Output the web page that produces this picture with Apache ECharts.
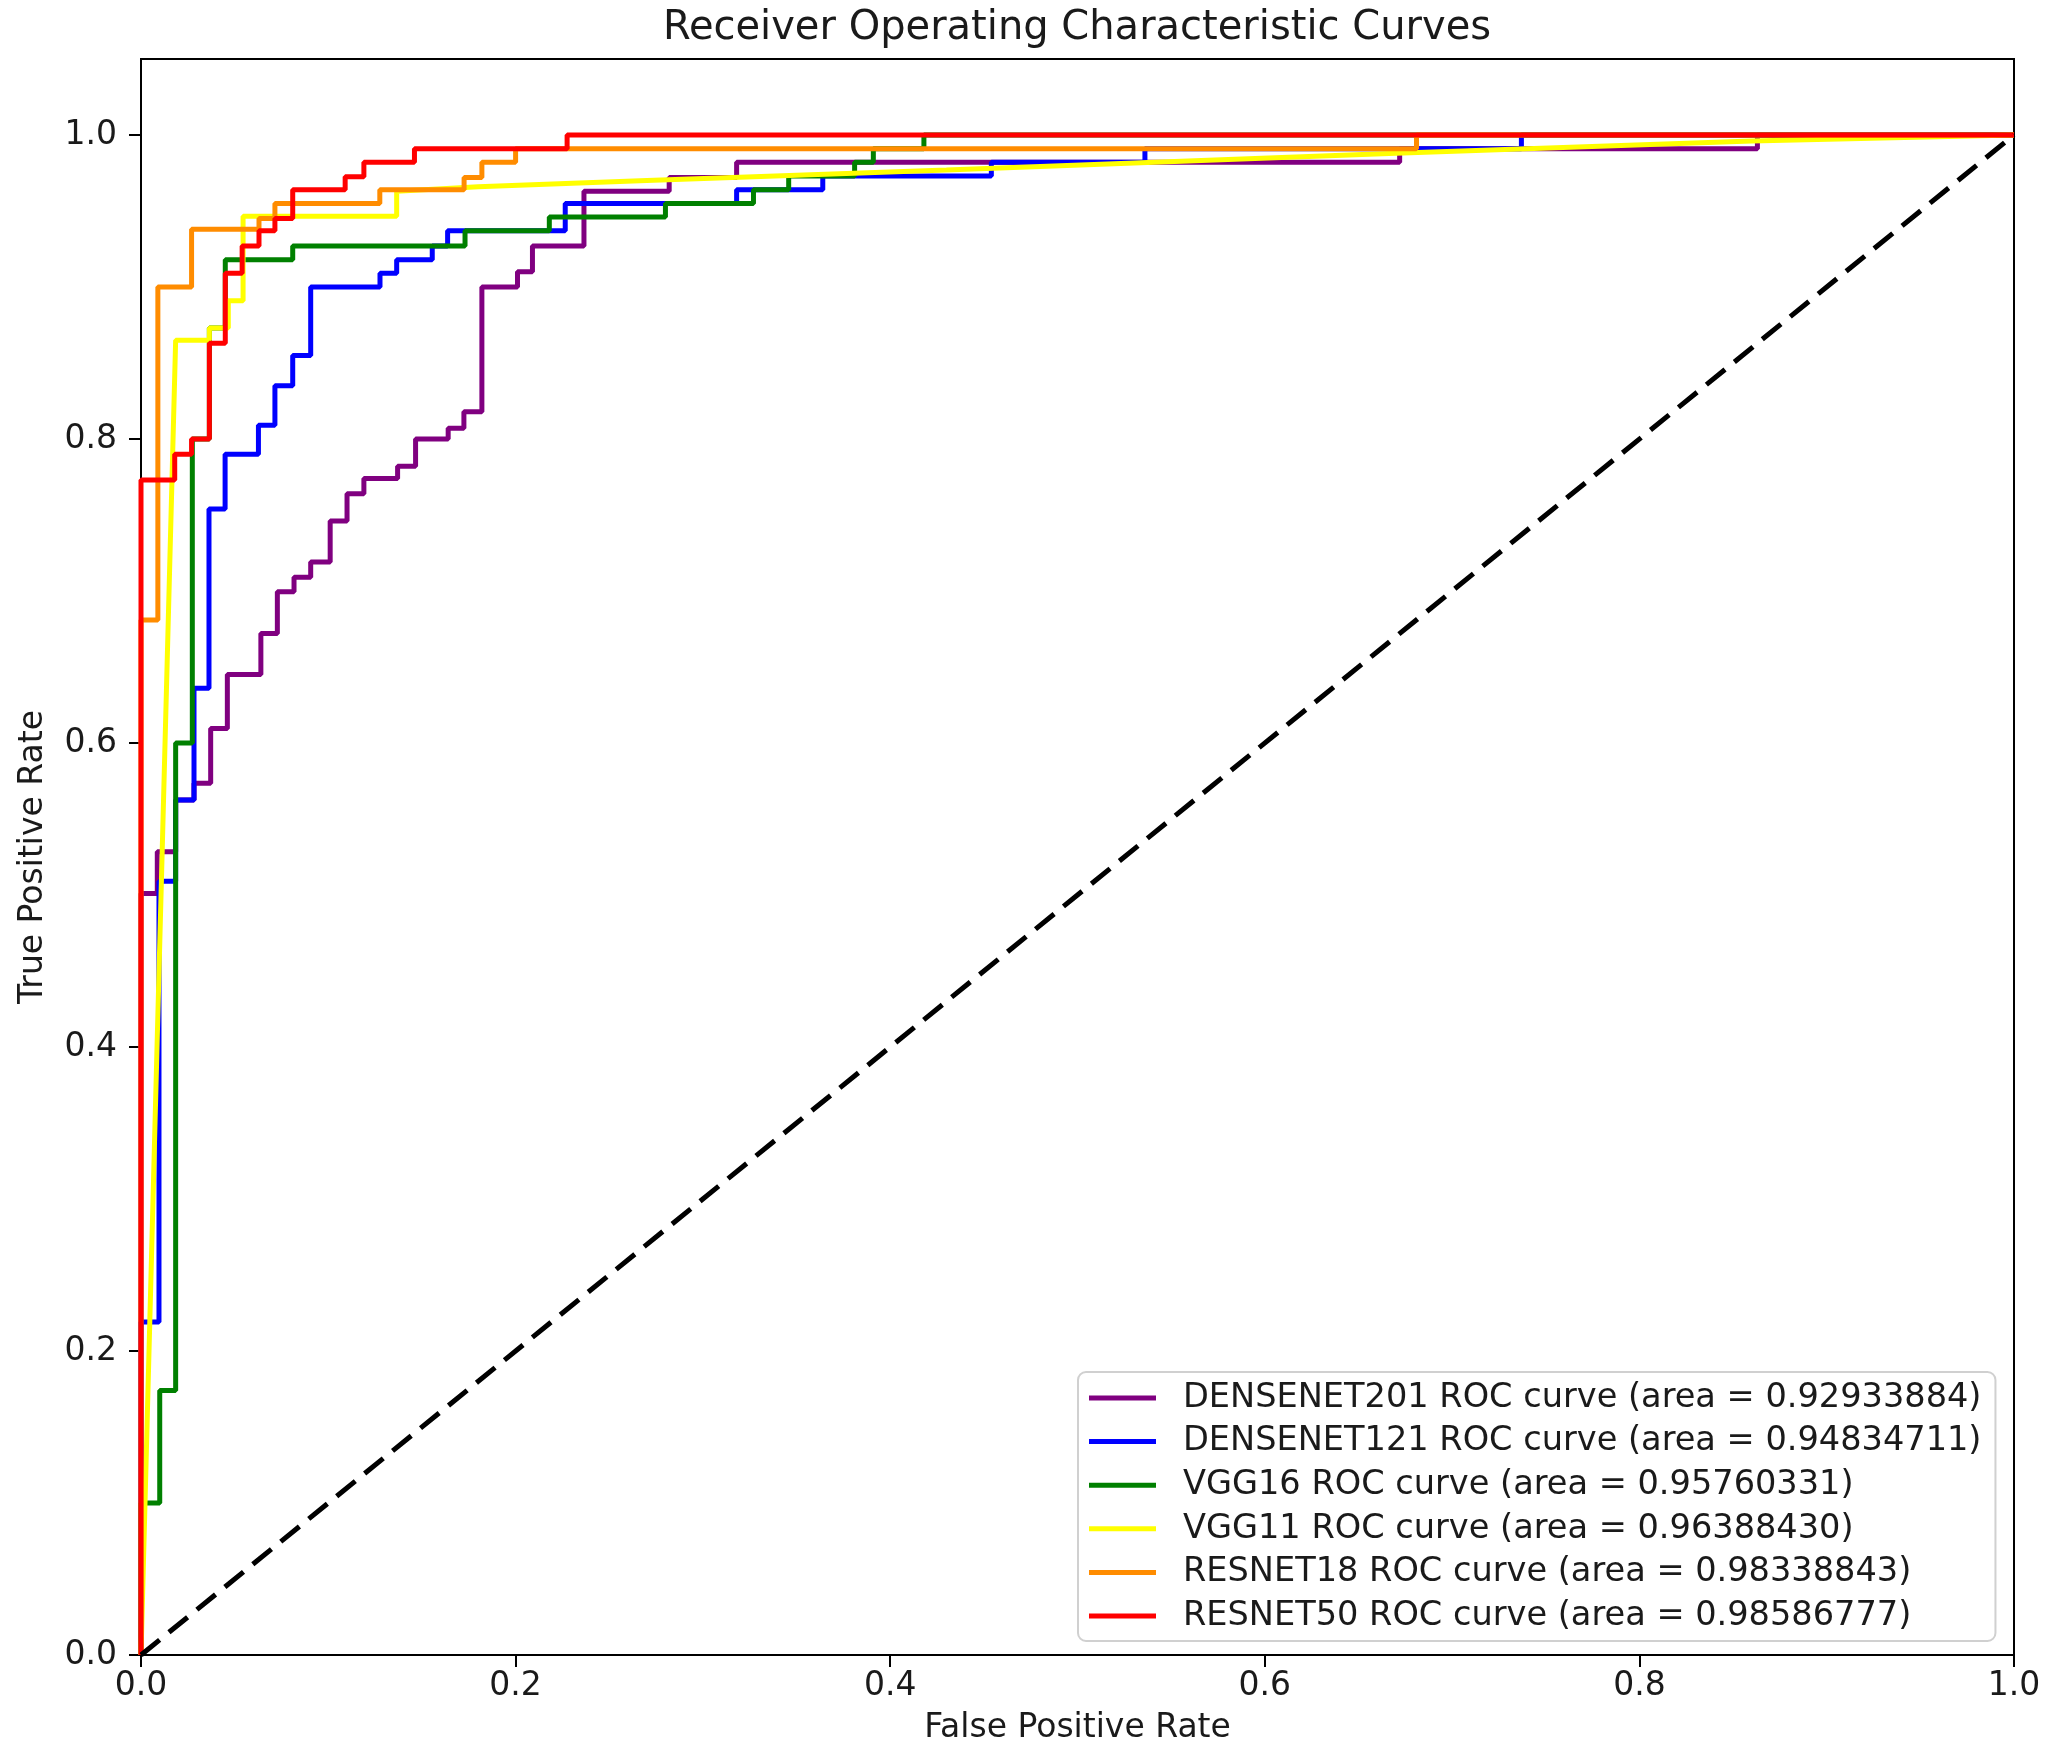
<!DOCTYPE html>
<html>
<head>
<meta charset="utf-8">
<script src="https://cdn.jsdelivr.net/npm/echarts@6.0.0/dist/echarts.min.js"></script>
<style>
  html, body { margin: 0; padding: 0; background: #fff; }
  #chart { width: 2047px; height: 1752px; }
</style>
</head>
<body>
<div id="chart"></div>
<script>
// ROC points (fpr, tpr)
const names = [
    'DENSENET201 ROC curve (area = 0.92933884)',
    'DENSENET121 ROC curve (area = 0.94834711)',
    'VGG16 ROC curve (area = 0.95760331)',
    'VGG11 ROC curve (area = 0.96388430)',
    'RESNET18 ROC curve (area = 0.98338843)',
    'RESNET50 ROC curve (area = 0.98586777)'
];
const colors = ['#800080', '#0000ff', '#008000', '#ffff00', '#ff8c00', '#ff0000'];

const densenet201Fpr = [0, 0, 0.0087, 0.0087, 0.0185, 0.0185, 0.0283, 0.0283, 0.0372, 0.0372, 0.0461, 0.0461, 0.064, 0.064, 0.0728, 0.0728, 0.0817, 0.0817, 0.0906, 0.0906, 0.101, 0.101, 0.110, 0.110, 0.119, 0.119, 0.137, 0.137, 0.1466, 0.1466, 0.164, 0.164, 0.1724, 0.1724, 0.182, 0.182, 0.201, 0.201, 0.209, 0.209, 0.2365, 0.2365, 0.282, 0.282, 0.318, 0.318, 0.672, 0.672, 0.863, 0.863, 1];
const densenet201Tpr = [0, 0.501, 0.501, 0.5285, 0.5285, 0.5625, 0.5625, 0.5735, 0.5735, 0.6095, 0.6095, 0.645, 0.645, 0.672, 0.672, 0.6995, 0.6995, 0.709, 0.709, 0.719, 0.719, 0.746, 0.746, 0.764, 0.764, 0.774, 0.774, 0.782, 0.782, 0.800, 0.800, 0.807, 0.807, 0.818, 0.818, 0.900, 0.900, 0.910, 0.910, 0.927, 0.927, 0.963, 0.963, 0.972, 0.972, 0.982, 0.982, 0.991, 0.991, 1, 1];

const densenet121Fpr = [0, 0, 0.0096, 0.0096, 0.0185, 0.0185, 0.0283, 0.0283, 0.0363, 0.0363, 0.0449, 0.0449, 0.0627, 0.0627, 0.0715, 0.0715, 0.081, 0.081, 0.0906, 0.0906, 0.1276, 0.1276, 0.1365, 0.1365, 0.1555, 0.1555, 0.1637, 0.1637, 0.2265, 0.2265, 0.318, 0.318, 0.364, 0.364, 0.454, 0.454, 0.536, 0.536, 0.737, 0.737, 1];
const densenet121Tpr = [0, 0.219, 0.219, 0.509, 0.509, 0.5625, 0.5625, 0.636, 0.636, 0.754, 0.754, 0.790, 0.790, 0.809, 0.809, 0.835, 0.835, 0.855, 0.855, 0.900, 0.900, 0.909, 0.909, 0.918, 0.918, 0.927, 0.927, 0.937, 0.937, 0.955, 0.955, 0.964, 0.964, 0.973, 0.973, 0.982, 0.982, 0.991, 0.991, 1, 1];

const vgg16Fpr = [0, 0, 0.01, 0.01, 0.0185, 0.0185, 0.0274, 0.0274, 0.0365, 0.0365, 0.045, 0.045, 0.081, 0.081, 0.173, 0.173, 0.218, 0.218, 0.28, 0.28, 0.327, 0.327, 0.3458, 0.3458, 0.381, 0.381, 0.391, 0.391, 0.418, 0.418, 1];
const vgg16Tpr = [0, 0.1, 0.1, 0.174, 0.174, 0.6, 0.6, 0.80, 0.80, 0.873, 0.873, 0.918, 0.918, 0.927, 0.927, 0.937, 0.937, 0.946, 0.946, 0.955, 0.955, 0.964, 0.964, 0.973, 0.973, 0.982, 0.982, 0.991, 0.991, 1, 1];

const vgg11Fpr = [0, 0.0185, 0.0365, 0.0365, 0.0466, 0.0466, 0.0545, 0.0545, 0.1365, 0.1365, 0.18, 0.27, 0.43, 0.67, 0.86, 1];
const vgg11Tpr = [0, 0.865, 0.865, 0.873, 0.873, 0.891, 0.891, 0.9465, 0.9465, 0.963, 0.966, 0.970, 0.977, 0.988, 0.996, 1];

const resnet18Fpr = [0, 0, 0.009, 0.009, 0.027, 0.027, 0.063, 0.063, 0.0715, 0.0715, 0.1275, 0.1275, 0.1725, 0.1725, 0.182, 0.182, 0.2, 0.2, 0.681, 0.681, 1];
const resnet18Tpr = [0, 0.681, 0.681, 0.900, 0.900, 0.938, 0.938, 0.945, 0.945, 0.955, 0.955, 0.964, 0.964, 0.972, 0.972, 0.982, 0.982, 0.991, 0.991, 1, 1];

const resnet50Fpr = [0, 0, 0.018, 0.018, 0.027, 0.027, 0.0365, 0.0365, 0.045, 0.045, 0.054, 0.054, 0.063, 0.063, 0.0715, 0.0715, 0.081, 0.081, 0.109, 0.109, 0.119, 0.119, 0.146, 0.146, 0.2275, 0.2275, 1];
const resnet50Tpr = [0, 0.773, 0.773, 0.790, 0.790, 0.800, 0.800, 0.863, 0.863, 0.909, 0.909, 0.927, 0.927, 0.937, 0.937, 0.945, 0.945, 0.964, 0.964, 0.9725, 0.9725, 0.982, 0.982, 0.991, 0.991, 1, 1];

const chanceFpr = [0, 1];
const chanceTpr = [0, 1];

const yTicks = [0, 0.2, 0.4, 0.6, 0.8, 1.0];

const curves = [
    [densenet201Fpr, densenet201Tpr],
    [densenet121Fpr, densenet121Tpr],
    [vgg16Fpr, vgg16Tpr],
    [vgg11Fpr, vgg11Tpr],
    [resnet18Fpr, resnet18Tpr],
    [resnet50Fpr, resnet50Tpr]
];

function zip(xs, ys) {
    return xs.map((x, i) => [x, ys[i]]);
}

const font = 'DejaVu Sans';
const textColor = '#1a1a1a';

let chartDom = document.getElementById('chart');
let myChart = echarts.init(chartDom, null, { renderer: 'canvas' });

let series = curves.map((c, i) => ({
    name: names[i],
    type: 'line',
    data: zip(c[0], c[1]),
    showSymbol: false,
    symbol: 'none',
    lineStyle: { color: colors[i], width: 5 },
    itemStyle: { color: colors[i] },
    z: 2 + i
}));
series.push({
    name: 'chance',
    type: 'line',
    data: zip(chanceFpr, chanceTpr),
    showSymbol: false,
    symbol: 'none',
    lineStyle: { color: '#000', width: 5, type: [24, 12] },
    z: 10
});

let option = {
    backgroundColor: '#fff',
    animation: false,
    textStyle: { fontFamily: font },
    graphic: [{
        type: 'text',
        x: 1077,
        y: 29,
        style: {
            text: 'Receiver Operating Characteristic Curves',
            fontSize: 40,
            fontFamily: font,
            fill: textColor,
            align: 'center',
            verticalAlign: 'middle'
        }
    }],
    grid: {
        left: 141, top: 59, width: 1873, height: 1596,
        show: true, borderColor: '#000', borderWidth: 2,
        backgroundColor: 'transparent'
    },
    legend: {
        data: names,
        orient: 'vertical',
        left: 1078,
        top: 1372,
        padding: [9, 14, 8, 11],
        icon: 'rect',
        itemWidth: 67,
        itemHeight: 5,
        itemGap: 9.6,
        backgroundColor: '#ffffff',
        borderColor: '#d0d0d0',
        borderWidth: 2,
        borderRadius: 8,
        textStyle: { fontSize: 33.6, fontFamily: font, color: textColor, padding: [0, 0, 0, 22] }
    },
    xAxis: {
        type: 'value',
        min: 0, max: 1, interval: 0.2,
        name: 'False Positive Rate',
        nameLocation: 'middle',
        nameGap: 57,
        nameTextStyle: { fontSize: 33, fontFamily: font, color: textColor },
        axisLine: { show: true, onZero: false, lineStyle: { color: '#000', width: 2 } },
        axisTick: { show: true, length: 12, lineStyle: { color: '#000', width: 2 } },
        axisLabel: {
            margin: 15, fontSize: 33, fontFamily: font, color: textColor,
            formatter: v => v.toFixed(1)
        },
        splitLine: { show: false }
    },
    yAxis: {
        type: 'value',
        min: 0, max: 1.05, interval: 0.2,
        name: 'True Positive Rate',
        nameLocation: 'middle',
        nameGap: 91,
        nameTextStyle: { fontSize: 33, fontFamily: font, color: textColor },
        axisLine: { show: true, onZero: false, lineStyle: { color: '#000', width: 2 } },
        axisTick: { show: true, length: 12, customValues: yTicks, lineStyle: { color: '#000', width: 2 } },
        axisLabel: {
            margin: 24, fontSize: 33, fontFamily: font, color: textColor,
            customValues: yTicks,
            formatter: v => v.toFixed(1)
        },
        splitLine: { show: false }
    },
    series: series
};

option && myChart.setOption(option);
</script>
</body>
</html>
